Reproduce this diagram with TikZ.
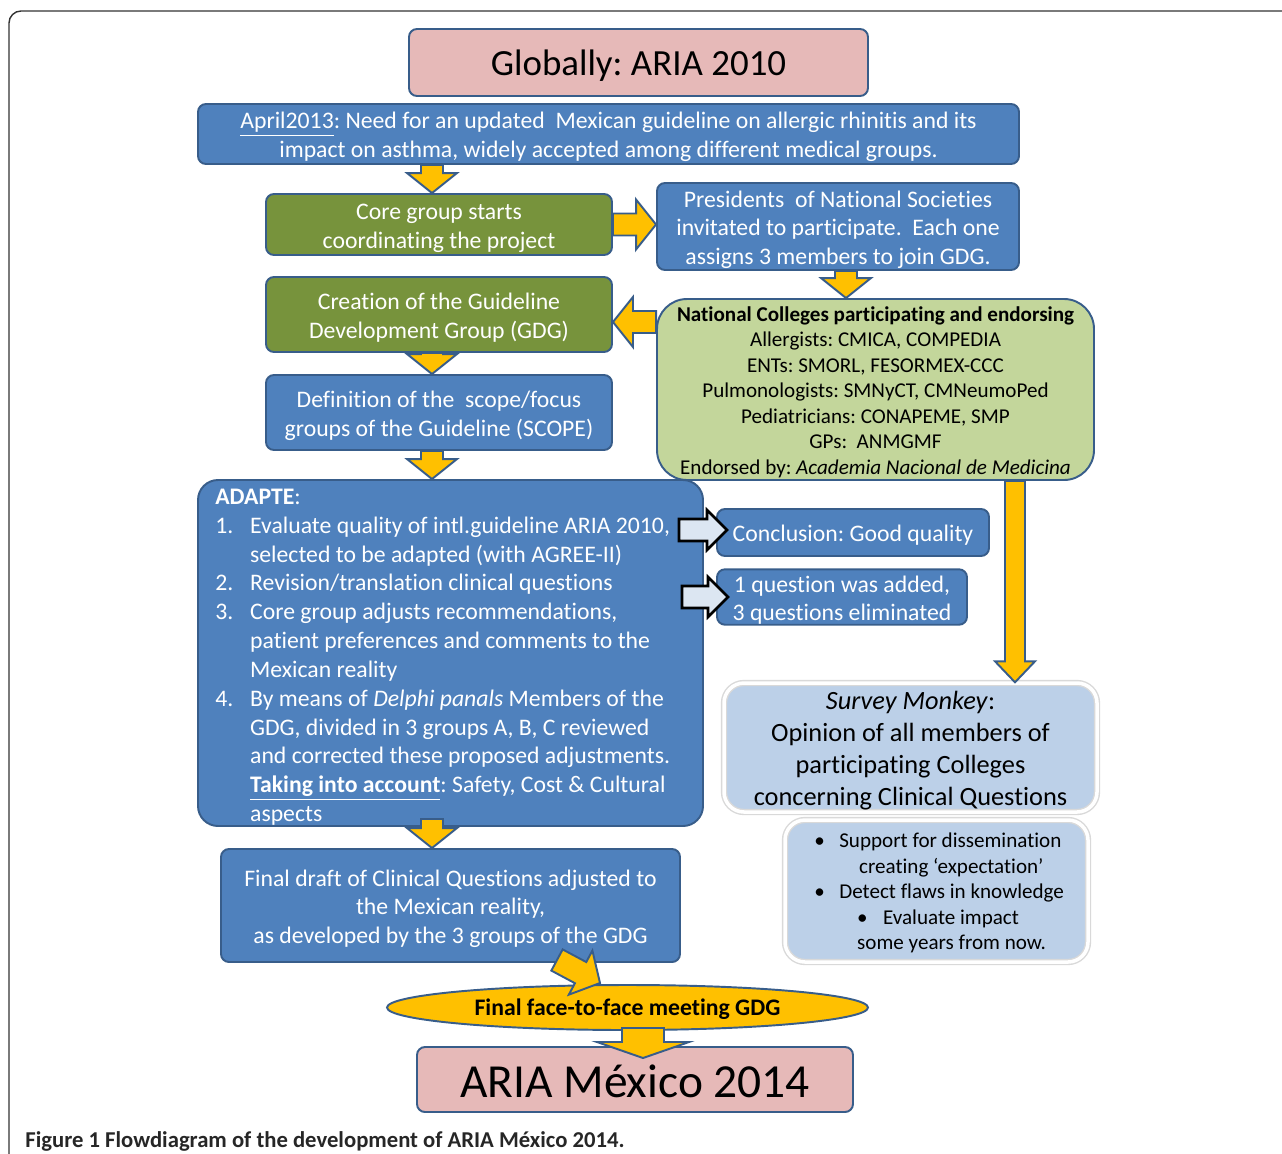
\documentclass[tikz,border=0pt]{standalone}
\usepackage{fontspec}
\setmainfont{Carlito}[Ligatures={TeX,NoCommon}]
\usepackage{tikz}
\usetikzlibrary{calc,shapes.geometric}
\frenchspacing

\definecolor{boxblue}{HTML}{4F81BD}
\definecolor{boxline}{HTML}{385D8A}
\definecolor{boxgreen}{HTML}{77933C}
\definecolor{boxpink}{HTML}{E6B9B8}
\definecolor{lightgreen}{HTML}{C3D69B}
\definecolor{gold}{HTML}{FFC000}
\definecolor{lightblue}{HTML}{BCD0E8}
\definecolor{paleblue}{HTML}{DCE6F2}

\newcommand{\bodyfont}{\fontsize{13.5}{16.4}\selectfont}
\newcommand{\smallbody}{\fontsize{12}{14.5}\selectfont}
\newcommand{\tl}{\rule{0pt}{0.96em}}

\tikzset{
  blkw/.store in=\blkw, blkh/.store in=\blkh, blkl/.store in=\blkl,
  blk/.style={blkw=0.22cm, blkh=0.5cm, blkl=0.4cm, #1,
    to path={
      ($(\tikztotarget)!\blkl!(\tikztostart)$) coordinate (bb)
      ($(\tikztostart)!\blkw!90:(\tikztotarget)$)
      -- ($(bb)!\blkw!90:(\tikztotarget)$)
      -- ($(bb)!\blkh!90:(\tikztotarget)$)
      -- (\tikztotarget)
      -- ($(bb)!\blkh!-90:(\tikztotarget)$)
      -- ($(bb)!\blkw!-90:(\tikztotarget)$)
      -- ($(\tikztostart)!\blkw!-90:(\tikztotarget)$)
      -- cycle}},
  blk/.default={},
  yarrow/.style={fill=gold, draw=boxline, line width=1.1pt},
  warrow/.style={fill=paleblue, draw=black, line width=1.5pt},
  lower/.style={execute at begin node={\rule{0pt}{#1}}},
  lower/.default=0.92em,
  bluebox/.style={rectangle, draw=boxline, fill=boxblue, line width=1.1pt,
    rounded corners=0.16cm, inner sep=0pt, align=center, text=white, font=\bodyfont},
  greenbox/.style={bluebox, fill=boxgreen},
  pinkbox/.style={bluebox, fill=boxpink, text=black},
  softbox/.style={rectangle, fill=lightblue, draw=black!15, double=white,
    double distance=2pt, line width=0.8pt, rounded corners=0.4cm,
    inner sep=0pt, align=center, text=black}
}

\begin{document}
\begin{tikzpicture}
\useasboundingbox (0,0) rectangle (25.64,-23.06);
\clip (0,0) rectangle (25.64,-23.06);
\draw[black!80, line width=0.8pt, rounded corners=0.24cm] (0.18,-23.6) -- (0.18,-0.22) -- (26.2,-0.22);

\node[pinkbox, lower=0.87em, minimum width=9.18cm, minimum height=1.34cm, font=\fontsize{21}{25}\selectfont] (glob) at (12.77,-1.25) {Globally: ARIA 2010};
\node[bluebox, minimum width=16.42cm, minimum height=1.2cm] (april) at (12.17,-2.68)
  {\tl\underline{April2013}: Need for an updated\ \ Mexican guideline on allergic rhinitis and its\\
   impact on asthma, widely accepted among different medical groups.};
\node[greenbox, minimum width=6.92cm, minimum height=1.22cm] (core) at (8.78,-4.49)
  {\tl Core group starts\\coordinating the project};
\node[bluebox, minimum width=7.24cm, minimum height=1.74cm] (pres) at (16.76,-4.53)
  {\tl Presidents\ \ of National Societies\\invitated to participate.\ \ Each one\\assigns 3 members to join GDG.};
\node[greenbox, minimum width=6.92cm, minimum height=1.5cm] (gdg) at (8.78,-6.29)
  {\tl Creation of the Guideline\\Development Group (GDG)};
\node[bluebox, fill=lightgreen, text=black, rounded corners=0.6cm, font=\smallbody,
  minimum width=8.74cm, minimum height=3.62cm] (colleges) at (17.51,-7.79)
  {\tl\textbf{National Colleges participating and endorsing}\\
   Allergists: CMICA, COMPEDIA\\
   ENTs: SMORL, FESORMEX-CCC\\
   Pulmonologists: SMNyCT, CMNeumoPed\\
   Pediatricians: CONAPEME, SMP\\
   GPs:\ \ ANMGMF\\
   Endorsed by: \textit{Academia Nacional de Medicina}};
\node[bluebox, minimum width=6.92cm, minimum height=1.5cm] (scope) at (8.78,-8.25)
  {\tl Definition of the\ \ scope/focus\\groups of the Guideline (SCOPE)};
\node[bluebox, rounded corners=0.4cm, minimum width=10.1cm, minimum height=6.92cm] (adapte) at (9.01,-13.06) {};
\node[anchor=north west, inner sep=0pt, text=white, font=\bodyfont] (adtext) at (4.30,-9.68) {%
  \begin{tabular}{@{}p{19.8pt}@{}l@{}}
  \multicolumn{2}{@{}l@{}}{\textbf{ADAPTE}:}\\
  1. & Evaluate quality of intl.guideline ARIA 2010,\\
     & selected to be adapted (with AGREE-II)\\
  2. & Revision/translation clinical questions\\
  3. & Core group adjusts recommendations,\\
     & patient preferences and comments to the\\
     & Mexican reality\\
  4. & By means of \textit{Delphi panals} Members of the\\
     & GDG, divided in 3 groups A, B, C reviewed\\
     & and corrected these proposed adjustments.\\
     & \underline{\textbf{Taking into account}}: Safety, Cost \& Cultural\\
     & aspects
  \end{tabular}};
\node[bluebox, lower, minimum width=5.44cm, minimum height=0.94cm] (concl) at (17.06,-10.65) {Conclusion: Good quality};
\node[bluebox, minimum width=5.0cm, minimum height=1.08cm] (quest) at (16.84,-11.94)
  {\tl 1 question was added,\\3 questions eliminated};
\node[softbox, minimum width=7.46cm, minimum height=2.58cm, font=\fontsize{15}{18.2}\selectfont] (survey) at (18.21,-14.95)
  {\tl\textit{Survey Monkey}:\\Opinion of all members of\\participating Colleges\\concerning Clinical Questions};
\node[softbox, minimum width=6.06cm, minimum height=2.84cm] (gains) at (18.73,-17.82) {};
\node[anchor=west, inner sep=0pt, align=left, font=\smallbody, yshift=-0.04cm] (gtext) at (16.28,-17.82)
  {\makebox[14.2pt][l]{\textbullet}Support for dissemination\\
   \hspace*{25.5pt}creating ‘expectation’\\
   \makebox[14.2pt][l]{\textbullet}Detect flaws in knowledge\\
   \hspace*{24.4pt}\makebox[14.7pt][l]{\textbullet}Evaluate impact\\
   \hspace*{24.4pt}some years from now.};
\node[bluebox, minimum width=9.18cm, minimum height=2.26cm] (draft) at (9.01,-18.11)
  {\tl Final draft of Clinical Questions adjusted to\\the Mexican reality,\\as developed by the 3 groups of the GDG};
\node[ellipse, lower=0.88em, draw=boxline, fill=gold, line width=1.1pt, inner sep=0pt,
  minimum width=9.62cm, minimum height=0.9cm, font=\bodyfont\bfseries] (meet) at (12.55,-20.15)
  {Final face-to-face meeting GDG};
\node[pinkbox, lower=0.77em, minimum width=8.72cm, minimum height=1.3cm, font=\fontsize{27}{32}\selectfont] (aria) at (12.7,-21.59) {ARIA México 2014};
\node[anchor=west, inner sep=0pt, font=\fontsize{12.9}{15}\selectfont\bfseries, text=black!85] (cap) at (0.5,-22.82)
  {Figure 1 Flowdiagram of the development of ARIA México 2014.};

\coordinate (cl) at ($(gdg.east)+(0,-0.15)$);
\coordinate (lx) at (20.3,0);
\coordinate (ax) at (8.64,0);
\coordinate (d1) at (11.14,-19.2);
\coordinate (d2) at (12.0,-19.66);
\coordinate (m1) at (12.86,-20.56);
\coordinate (m2) at (12.86,-21.16);
\coordinate (w1) at (13.58,-10.6);
\coordinate (w2) at (14.54,-10.6);
\coordinate (q1) at (13.64,-11.94);
\coordinate (q2) at (14.56,-11.94);

\path[yarrow] (ax |- april.south) to[blk] (ax |- core.north);
\path[yarrow] (core.east) to[blk] (core.east -| pres.west);
\path[yarrow] (16.92,0 |- pres.south) to[blk] (16.92,0 |- colleges.north);
\path[yarrow] (cl -| colleges.west) to[blk] (cl);
\path[yarrow] (ax |- gdg.south) to[blk] (ax |- scope.north);
\path[yarrow] (ax |- scope.south) to[blk] (ax |- adapte.north);
\path[yarrow] (lx |- colleges.south) to[blk={blkw=0.2cm, blkh=0.4cm, blkl=0.42cm}] (lx |- survey.north);
\path[yarrow] ($(ax |- adapte.south)+(0,0.16)$) to[blk] (ax |- draft.north);
\path[yarrow] (d1) to[blk={blkw=0.24cm, blkh=0.5cm, blkl=0.44cm}] (d2);
\path[yarrow] (m1) to[blk={blkw=0.42cm, blkh=0.92cm, blkl=0.32cm}] (m2);
\path[warrow] (w1) to[blk={blkh=0.4cm}] (w2);
\path[warrow] (q1) to[blk={blkh=0.4cm}] (q2);
\end{tikzpicture}
\end{document}
